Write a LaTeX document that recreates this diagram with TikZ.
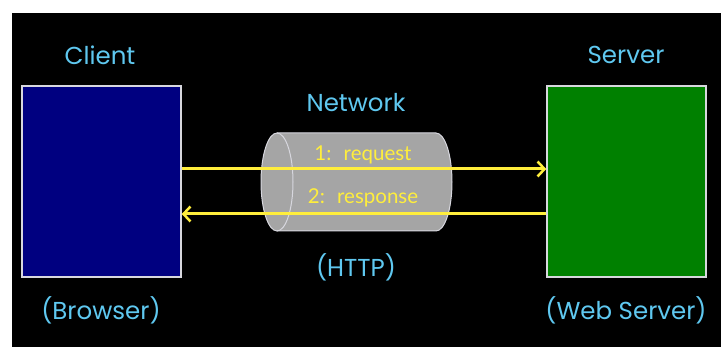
\documentclass[tikz,border=0pt]{standalone}
\usepackage{fontspec}
\setmainfont{Lato}
\newfontfamily\handfont{Poppins}
\usetikzlibrary{arrows.meta}

\definecolor{labelblue}{RGB}{95,200,240}
\definecolor{msgyellow}{RGB}{255,238,60}
\definecolor{clientblue}{RGB}{0,0,128}
\definecolor{servergreen}{RGB}{0,128,0}
\definecolor{pipegray}{RGB}{165,165,165}
\definecolor{edgegray}{RGB}{215,215,222}

\begin{document}
\begin{tikzpicture}[x=1pt,y=-1pt,
  hostbox/.style={draw=edgegray,line width=1.5pt,minimum width=159pt,minimum height=191pt,inner sep=0pt},
  tag/.style={text=labelblue,inner sep=0pt,font=\handfont\fontsize{24.5}{28}\selectfont},
  msgtext/.style={text=msgyellow,inner sep=0pt,font=\fontsize{20.5}{24}\selectfont},
  msg/.style={draw=msgyellow,line width=3pt,-{Straight Barb[length=7pt,width=15pt,line width=2.5pt]}},
  pipeedge/.style={draw=edgegray,line width=1pt}
]
% canvas
\useasboundingbox (0,0) rectangle (721,347);
\fill[white] (0,0) rectangle (721,347);
\fill[black] (12,13) rectangle (721,347);

% hosts
\node[hostbox,fill=clientblue]  (client) at (101.5,181.5) {};
\node[hostbox,fill=servergreen] (server) at (626.5,181.5) {};

% network pipe
\node[minimum width=191pt,minimum height=98pt,inner sep=0pt] (net) at (356.5,182) {};
\fill[pipegray] (277,133) -- (436,133)
  arc[start angle=-90,end angle=90,x radius=16,y radius=49]
  -- (277,231)
  arc[start angle=90,end angle=270,x radius=16,y radius=49] -- cycle;
\draw[pipeedge] (277,133) -- (436,133)
  arc[start angle=-90,end angle=90,x radius=16,y radius=49]
  -- (277,231);
\draw[pipeedge] (277,182) ellipse[x radius=16,y radius=49];

% messages
\draw[msg] (client.east |- 0,169) -- (server.west |- 0,169);
\draw[msg] (server.west |- 0,214) -- (client.east |- 0,214);
\node[msgtext] (req)  at (363,155) {1:~ request};
\node[msgtext] (resp) at (363,198) {2:~ response};

% labels
\node[tag] (lclient)  at (100,55)  {Client};
\node[tag] (lserver)  at (626,55)  {Server};
\node[tag] (lnet)     at (356,103) {Network};
\node[tag] (lhttp)    at (356,267) {(HTTP)};
\node[tag] (lbrowser) at (101,310) {(Browser)};
\node[tag] (lweb)     at (626,310) {(Web Server)};
\end{tikzpicture}
\end{document}
